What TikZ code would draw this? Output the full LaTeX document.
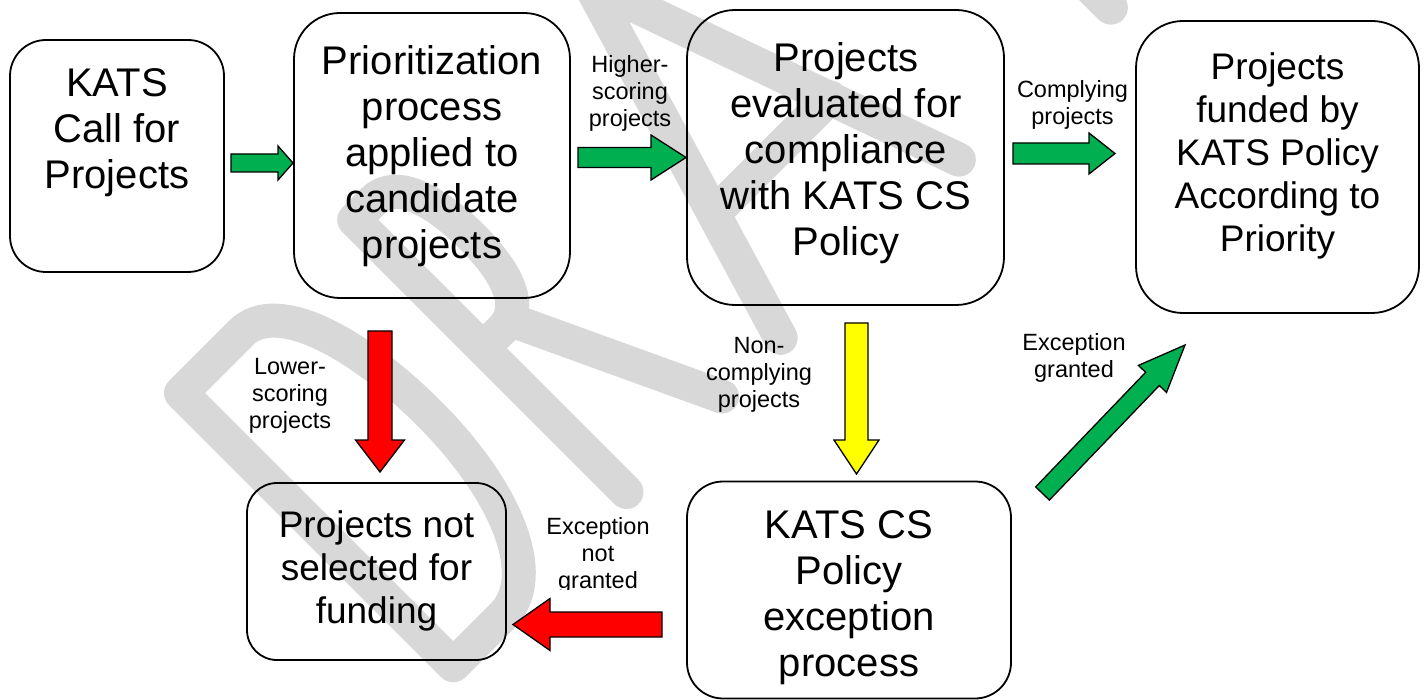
\documentclass[tikz,border=0pt]{standalone}
\usepackage{fontspec}
\setmainfont{Liberation Sans}
\usetikzlibrary{calc}
\definecolor{wm}{RGB}{216,216,216}
\definecolor{agreen}{RGB}{0,176,80}
\definecolor{ared}{RGB}{255,0,0}
\definecolor{ayellow}{RGB}{255,255,0}
\tikzset{
  box/.style={draw=black, line width=1.8pt, inner sep=0pt},
  bigtext/.style={font=\fontsize{40}{46}\selectfont, align=center, inner sep=0pt, anchor=north},
  midtext/.style={font=\fontsize{37}{43}\selectfont, align=center, inner sep=0pt, anchor=north},
  lbl/.style={font=\fontsize{23.5}{27}\selectfont, align=center, inner sep=0pt, anchor=north},
  blk/.style={draw=black, line width=1.3pt, line join=miter},
  wmstroke/.style={draw=wm, line width=34pt, line cap=round, line join=round},
}
\newcommand\blockarrow[6]{%
  \coordinate (bah) at ($(#2)!#5!(#1)$);
  \filldraw[blk, fill=#6] ($(#1)!#3!90:(#2)$) -- ($(bah)!#3!90:(#2)$) -- ($(bah)!#4!90:(#2)$) -- (#2) -- ($(bah)!#4!-90:(#2)$) -- ($(bah)!#3!-90:(#2)$) -- ($(#1)!#3!-90:(#2)$) -- cycle;}
\begin{document}
\begin{tikzpicture}[x=1pt, y=-1pt]
\useasboundingbox (0,0) rectangle (1424,700);
\fill[white] (0,0) rectangle (1424,700);
\clip (0,0) rectangle (1424,700);
% watermark DRAFT
\begin{scope}[shift={(181,393)}, rotate=45]
  \draw[wmstroke] (0,0) -- (85,0) .. controls (135,0) and (161,90) .. (161,190) .. controls (161,300) and (125,385) .. (70,385) -- (0,385) -- cycle;
  \draw[wmstroke] (245,385) -- (245,0) -- (272,0) .. controls (302,0) and (316,40) .. (316,95) .. controls (316,150) and (302,182) .. (272,182) -- (245,182);
  \draw[wmstroke] (285,182) -- (380,385);
  \draw[wmstroke] (463,385) -- (578,0) -- (715,385);
  \draw[wmstroke] (505,250) -- (668,250);
  \draw[wmstroke] (930,385) -- (930,0) -- (1060,0);
  \draw[wmstroke] (930,175) -- (1040,175);
\end{scope}
% boxes
\node[box, rounded corners=36pt, minimum width=214pt, minimum height=232pt] (b1) at (117,156) {};
\node[box, rounded corners=46pt, minimum width=276pt, minimum height=285pt] (b2) at (432,155.5) {};
\node[box, rounded corners=48pt, minimum width=317pt, minimum height=295pt] (b3) at (845.5,157.5) {};
\node[box, rounded corners=47pt, minimum width=283pt, minimum height=292pt] (b4) at (1277.5,167) {};
\node[box, rounded corners=30pt, minimum width=259pt, minimum height=177pt] (b5) at (376.5,571.5) {};
\node[box, rounded corners=36pt, minimum width=324pt, minimum height=217pt] (b6) at (849,590) {};
% box texts
\node[bigtext] (t1) at (117,68) {KATS\\Call for\\Projects};
\node[bigtext] (t2) at (432,45) {Prioritization\\process\\applied to\\candidate\\projects};
\node[bigtext] (t3) at (846,42) {Projects\\evaluated for\\compliance\\with KATS CS\\Policy};
\node[midtext] (t4) at (1277.5,52) {Projects\\funded by\\KATS Policy\\According to\\Priority};
\node[midtext] (t5) at (376.5,510) {Projects not\\selected for\\funding};
\node[bigtext] (t6) at (849,510) {KATS CS\\Policy\\exception\\process};
% connector end points
\coordinate (a1s) at (231,163);    \coordinate (a1e) at (293,163);
\coordinate (a2s) at (578,157.5);  \coordinate (a2e) at (686,157.5);
\coordinate (a3s) at (1013,153.5); \coordinate (a3e) at (1115,153.5);
\coordinate (a4s) at (380,331);    \coordinate (a4e) at (380,472);
\coordinate (a5s) at (856.5,323);  \coordinate (a5e) at (856.5,474);
\coordinate (a6s) at (662,624.5);  \coordinate (a6e) at (513,624.5);
\coordinate (a7s) at (1042.5,493.5); \coordinate (a7e) at (1185,345);
\blockarrow{a1s}{a1e}{9pt}{17pt}{15pt}{agreen}
\blockarrow{a2s}{a2e}{10pt}{22.5pt}{35pt}{agreen}
\blockarrow{a3s}{a3e}{10.5pt}{20.5pt}{26pt}{agreen}
\blockarrow{a4s}{a4e}{12pt}{24.5pt}{32pt}{ared}
\blockarrow{a5s}{a5e}{11.5pt}{22.5pt}{34pt}{ayellow}
\blockarrow{a6s}{a6e}{12.5pt}{26pt}{37pt}{ared}
\blockarrow{a7s}{a7e}{9.5pt}{19.5pt}{47pt}{agreen}
% labels
\node[lbl] (l1) at (630,55) {Higher-\\scoring\\projects};
\node[lbl] (l2) at (1072.5,80) {Complying\\projects};
\node[lbl] (l3) at (290,358) {Lower-\\scoring\\projects};
\node[lbl] (l4) at (759,337) {Non-\\complying\\projects};
\node[lbl] (l5) at (1074,333) {Exception\\granted};
\begin{scope}
  \clip (530,500) rectangle (670,589);
  \node[lbl] (l6) at (598,517) {Exception\\not\\granted};
\end{scope}
\end{tikzpicture}
\end{document}
